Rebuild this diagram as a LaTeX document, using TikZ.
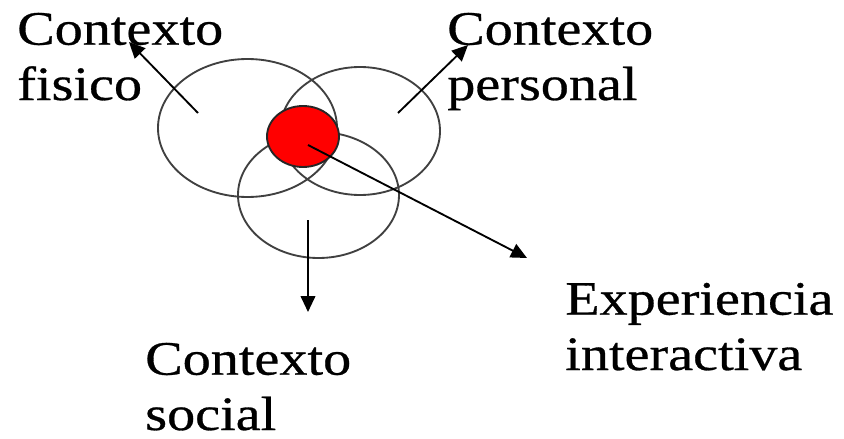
\documentclass[tikz,border=0pt]{standalone}
\usepackage{fontspec}
\setmainfont{Liberation Serif}[FakeStretch=1.17,FakeBold=0.6]
\usetikzlibrary{arrows.meta,shapes.geometric}
\begin{document}
\begin{tikzpicture}[x=0.75pt,y=-0.75pt,
  ring/.style={draw=black!75,line width=1.4pt,ellipse,inner sep=0pt},
  lbl/.style={anchor=base west,inner sep=0pt,align=left,font=\fontsize{36pt}{41.5pt}\selectfont},
  arr/.style={draw=black,line width=1.4pt,-{Triangle[length=12pt,width=11pt]}}]
\useasboundingbox (0,0) rectangle (844,439);
\node[ring,minimum width=134.25pt,minimum height=103.5pt] (fis) at (247.5,128) {};
\node[ring,minimum width=120pt,minimum height=96pt] (per) at (360,131) {};
\node[ring,minimum width=120.75pt,minimum height=94.5pt] (soc) at (318.5,195) {};
\node[ring,fill=red,draw=black!85,minimum width=54pt,minimum height=45.75pt] (exp) at (303,136.5) {};
\node[lbl] (tfis) at (17,100) {Contexto\\fisico};
\node[lbl] (tper) at (447,100) {Contexto\\personal};
\node[lbl] (tsoc) at (145,430) {Contexto\\social};
\node[lbl] (texp) at (565,370) {Experiencia\\interactiva};
\coordinate (s1) at (198,113);
\coordinate (e1) at (129,42);
\coordinate (s2) at (398,113);
\coordinate (e2) at (468,45);
\coordinate (s3) at (308,220);
\coordinate (e3) at (308,312);
\coordinate (s4) at (308,145);
\coordinate (e4) at (527,258);
\draw[arr] (s1) -- (e1);
\draw[arr] (s2) -- (e2);
\draw[arr] (s3) -- (e3);
\draw[arr] (s4) -- (e4);
\end{tikzpicture}
\end{document}
